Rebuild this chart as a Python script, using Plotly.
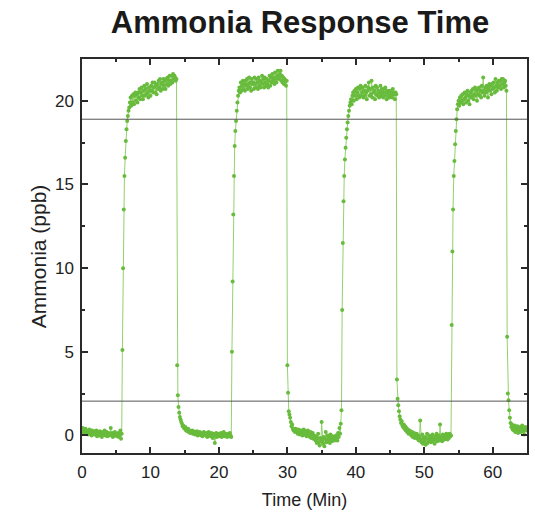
import plotly.graph_objects as go

title_text = "Ammonia Response Time"
x_title = "Time (Min)"
y_title = "Ammonia (ppb)"
threshold_levels = [2.05, 18.9]

time_min = [
0.0,0.1,0.2,0.3,0.4,0.5,0.6,0.7,0.8,0.9,
1.0,1.1,1.2,1.3,1.4,1.5,1.6,1.7,1.8,1.9,
2.0,2.1,2.2,2.3,2.4,2.5,2.6,2.7,2.8,2.9,
3.0,3.1,3.2,3.3,3.4,3.5,3.6,3.7,3.8,3.9,
4.0,4.1,4.2,4.3,4.4,4.5,4.6,4.7,4.8,4.9,
5.0,5.1,5.2,5.3,5.4,5.5,5.6,5.7,5.8,5.9,
6.0,6.1,6.2,6.3,6.4,6.5,6.6,6.7,6.8,6.9,
7.0,7.1,7.2,7.3,7.4,7.5,7.6,7.7,7.8,7.9,
8.0,8.1,8.2,8.3,8.4,8.5,8.6,8.7,8.8,8.9,
9.0,9.1,9.2,9.3,9.4,9.5,9.6,9.7,9.8,9.9,
10.0,10.1,10.2,10.3,10.4,10.5,10.6,10.7,10.8,10.9,
11.0,11.1,11.2,11.3,11.4,11.5,11.6,11.7,11.8,11.9,
12.0,12.1,12.2,12.3,12.4,12.5,12.6,12.7,12.8,12.9,
13.0,13.1,13.2,13.3,13.4,13.5,13.6,13.7,13.8,13.9,
14.0,14.1,14.2,14.3,14.4,14.5,14.6,14.7,14.8,14.9,
15.0,15.1,15.2,15.3,15.4,15.5,15.6,15.7,15.8,15.9,
16.0,16.1,16.2,16.3,16.4,16.5,16.6,16.7,16.8,16.9,
17.0,17.1,17.2,17.3,17.4,17.5,17.6,17.7,17.8,17.9,
18.0,18.1,18.2,18.3,18.4,18.5,18.6,18.7,18.8,18.9,
19.0,19.1,19.2,19.3,19.4,19.5,19.6,19.7,19.8,19.9,
20.0,20.1,20.2,20.3,20.4,20.5,20.6,20.7,20.8,20.9,
21.0,21.1,21.2,21.3,21.4,21.5,21.6,21.7,21.8,21.9,
22.0,22.1,22.2,22.3,22.4,22.5,22.6,22.7,22.8,22.9,
23.0,23.1,23.2,23.3,23.4,23.5,23.6,23.7,23.8,23.9,
24.0,24.1,24.2,24.3,24.4,24.5,24.6,24.7,24.8,24.9,
25.0,25.1,25.2,25.3,25.4,25.5,25.6,25.7,25.8,25.9,
26.0,26.1,26.2,26.3,26.4,26.5,26.6,26.7,26.8,26.9,
27.0,27.1,27.2,27.3,27.4,27.5,27.6,27.7,27.8,27.9,
28.0,28.1,28.2,28.3,28.4,28.5,28.6,28.7,28.8,28.9,
29.0,29.1,29.2,29.3,29.4,29.5,29.6,29.7,29.8,29.9,
30.0,30.1,30.2,30.3,30.4,30.5,30.6,30.7,30.8,30.9,
31.0,31.1,31.2,31.3,31.4,31.5,31.6,31.7,31.8,31.9,
32.0,32.1,32.2,32.3,32.4,32.5,32.6,32.7,32.8,32.9,
33.0,33.1,33.2,33.3,33.4,33.5,33.6,33.7,33.8,33.9,
34.0,34.1,34.2,34.3,34.4,34.5,34.6,34.7,34.8,34.9,
35.0,35.1,35.2,35.3,35.4,35.5,35.6,35.7,35.8,35.9,
36.0,36.1,36.2,36.3,36.4,36.5,36.6,36.7,36.8,36.9,
37.0,37.1,37.2,37.3,37.4,37.5,37.6,37.7,37.8,37.9,
38.0,38.1,38.2,38.3,38.4,38.5,38.6,38.7,38.8,38.9,
39.0,39.1,39.2,39.3,39.4,39.5,39.6,39.7,39.8,39.9,
40.0,40.1,40.2,40.3,40.4,40.5,40.6,40.7,40.8,40.9,
41.0,41.1,41.2,41.3,41.4,41.5,41.6,41.7,41.8,41.9,
42.0,42.1,42.2,42.3,42.4,42.5,42.6,42.7,42.8,42.9,
43.0,43.1,43.2,43.3,43.4,43.5,43.6,43.7,43.8,43.9,
44.0,44.1,44.2,44.3,44.4,44.5,44.6,44.7,44.8,44.9,
45.0,45.1,45.2,45.3,45.4,45.5,45.6,45.7,45.8,45.9,
46.0,46.1,46.2,46.3,46.4,46.5,46.6,46.7,46.8,46.9,
47.0,47.1,47.2,47.3,47.4,47.5,47.6,47.7,47.8,47.9,
48.0,48.1,48.2,48.3,48.4,48.5,48.6,48.7,48.8,48.9,
49.0,49.1,49.2,49.3,49.4,49.5,49.6,49.7,49.8,49.9,
50.0,50.1,50.2,50.3,50.4,50.5,50.6,50.7,50.8,50.9,
51.0,51.1,51.2,51.3,51.4,51.5,51.6,51.7,51.8,51.9,
52.0,52.1,52.2,52.3,52.4,52.5,52.6,52.7,52.8,52.9,
53.0,53.1,53.2,53.3,53.4,53.5,53.6,53.7,53.8,53.9,
54.0,54.1,54.2,54.3,54.4,54.5,54.6,54.7,54.8,54.9,
55.0,55.1,55.2,55.3,55.4,55.5,55.6,55.7,55.8,55.9,
56.0,56.1,56.2,56.3,56.4,56.5,56.6,56.7,56.8,56.9,
57.0,57.1,57.2,57.3,57.4,57.5,57.6,57.7,57.8,57.9,
58.0,58.1,58.2,58.3,58.4,58.5,58.6,58.7,58.8,58.9,
59.0,59.1,59.2,59.3,59.4,59.5,59.6,59.7,59.8,59.9,
60.0,60.1,60.2,60.3,60.4,60.5,60.6,60.7,60.8,60.9,
61.0,61.1,61.2,61.3,61.4,61.5,61.6,61.7,61.8,61.9,
62.0,62.1,62.2,62.3,62.4,62.5,62.6,62.7,62.8,62.9,
63.0,63.1,63.2,63.3,63.4,63.5,63.6,63.7,63.8,63.9,
64.0,64.1,64.2,64.3,64.4,64.5,64.6,64.7,64.8,64.9,
65.0,
]

ammonia_ppb = [
0.35,0.45,0.2,0.3,0.1,0.4,0.25,0.15,0.3,0.05,
0.2,0.35,0.1,0.25,0.0,0.3,0.15,0.2,0.05,0.25,
0.1,0.3,-0.05,0.15,0.2,0.0,0.25,0.1,0.15,-0.1,
0.2,0.05,0.15,0.3,0.0,0.1,0.2,-0.05,0.1,0.15,
0.0,0.1,0.45,0.05,0.15,-0.1,0.1,0.0,0.2,0.05,
0.1,-0.05,0.0,0.15,-0.1,0.05,0.3,-0.2,0.1,5.1,
10.0,13.5,15.5,16.6,17.6,18.3,18.8,19.1,19.4,19.6,
19.9,20.2,19.7,20.3,19.9,20.4,19.8,20.3,20.5,20.0,
20.4,19.9,20.5,20.2,20.7,20.1,20.5,20.8,20.3,20.1,
20.6,20.9,20.3,20.7,20.4,21.0,20.5,20.2,20.8,20.6,
20.3,20.9,20.6,21.1,20.5,20.8,21.1,20.5,20.9,20.4,
21.0,20.7,21.2,20.8,21.3,20.6,21.0,21.1,20.7,21.3,
20.9,21.2,20.7,21.3,21.0,21.4,20.9,21.2,21.5,21.0,
21.2,21.5,21.1,21.6,21.3,21.5,21.4,21.2,21.3,4.2,
2.4,1.7,1.35,1.1,0.95,0.8,0.7,0.55,0.6,0.45,
0.4,0.5,0.3,0.35,0.25,0.4,0.2,0.3,0.15,0.25,
0.2,0.3,0.1,0.25,0.15,0.05,0.2,0.1,0.25,0.0,
0.15,0.05,0.2,0.1,0.0,0.15,-0.05,0.1,0.2,0.05,
0.1,0.0,0.15,-0.1,0.05,0.2,0.0,0.1,-0.05,0.15,
0.05,-0.15,0.1,0.0,-0.45,0.05,0.15,-0.1,0.0,0.1,
-0.05,0.1,0.0,0.15,-0.1,0.05,0.0,0.2,-0.05,0.1,
0.0,0.05,-0.1,0.1,0.0,-0.05,0.15,0.0,-0.1,5.0,
9.2,13.2,15.5,17.3,18.2,18.8,19.4,19.9,20.3,20.6,
20.8,20.5,21.1,20.6,20.9,21.2,20.7,21.0,20.6,21.2,
20.9,21.3,20.7,21.0,21.4,20.8,21.1,20.6,21.3,21.0,
21.1,20.7,21.4,21.0,20.8,21.3,21.1,20.7,21.4,20.9,
21.2,20.8,21.1,21.5,21.0,21.3,20.8,21.4,21.1,20.9,
21.3,21.0,20.8,21.2,21.5,20.9,21.4,21.1,21.6,21.2,
21.4,21.0,21.7,21.3,21.1,21.5,21.8,21.3,21.4,21.6,
21.8,21.2,21.5,21.1,21.4,21.0,21.3,21.2,20.9,21.2,
4.2,2.55,1.45,1.25,1.05,0.8,0.55,0.65,0.4,0.3,
0.35,0.2,0.4,0.25,0.3,0.1,0.35,0.2,0.05,0.3,
0.15,0.3,0.0,0.2,0.35,0.05,0.1,0.25,-0.05,0.15,
0.3,0.0,0.1,-0.1,0.2,-0.15,0.05,0.15,-0.2,0.0,
-0.1,-0.3,-0.05,-0.45,-0.2,0.1,-0.4,-0.6,-0.15,-0.35,
0.8,-0.3,-0.5,-0.1,-0.65,-0.2,0.2,-0.4,-0.25,0.0,
-0.3,-0.1,-0.45,0.05,-0.2,-0.35,-0.05,-0.25,-0.1,-0.3,
-0.2,0.0,-0.15,-0.3,0.15,-0.1,0.45,0.1,0.7,1.5,
7.5,11.5,14.0,15.5,16.5,17.2,17.8,18.3,18.7,19.1,
19.4,19.7,19.9,20.1,19.8,20.3,20.5,20.0,20.6,20.3,
20.7,20.1,20.5,20.8,20.3,20.2,20.7,20.9,20.3,20.5,
20.8,20.2,20.6,20.3,20.9,20.5,20.1,20.6,20.8,21.1,
20.3,20.7,20.4,21.2,20.2,20.8,20.5,20.6,20.1,20.9,
20.4,20.8,20.3,20.6,20.2,20.5,20.9,20.3,20.7,20.5,
20.2,20.7,20.3,20.8,20.5,20.1,20.6,20.3,20.5,20.2,
20.6,20.3,20.5,20.2,20.7,20.4,20.5,20.1,20.5,20.4,
3.35,2.2,1.8,1.45,1.15,0.95,0.75,0.85,0.6,0.5,
0.65,0.4,0.55,0.3,0.45,0.2,0.35,0.1,0.3,0.15,
0.25,0.0,0.2,-0.1,0.1,0.15,-0.15,0.05,-0.05,0.1,
-0.2,0.0,-0.3,-0.1,0.9,-0.25,-0.4,0.05,-0.5,-0.15,
-0.35,-0.1,-0.55,-0.2,0.1,-0.45,-0.25,0.0,-0.3,-0.1,
-0.4,-0.15,0.05,-0.3,-0.2,-0.5,-0.05,-0.25,0.1,-0.35,
-0.15,0.0,-0.3,0.65,-0.2,-0.1,-0.35,0.05,-0.15,-0.25,
0.0,-0.2,0.1,-0.1,-0.25,0.05,-0.15,0.1,-0.05,0.0,
6.6,11.0,13.5,15.5,16.4,17.4,18.2,18.9,19.5,19.8,
20.0,19.7,20.2,19.9,20.3,20.0,20.4,19.8,20.1,20.5,
20.2,19.9,20.4,20.6,20.0,20.3,19.8,20.5,20.2,20.6,
20.3,20.7,20.1,20.4,20.8,20.3,20.6,20.0,20.7,20.4,
20.8,20.3,20.6,20.2,20.9,20.5,21.4,20.6,20.3,20.8,
20.5,20.9,20.6,20.2,20.8,21.0,20.6,20.9,20.4,21.0,
20.7,21.1,20.8,20.5,21.3,20.9,20.6,21.1,20.8,21.2,
20.9,21.2,20.7,21.3,21.0,21.3,20.8,21.1,21.2,20.9,
20.6,5.9,2.5,2.1,1.5,1.05,0.75,0.5,0.65,0.35,
0.5,0.3,0.6,0.2,0.45,0.35,0.55,0.15,0.4,0.3,
0.5,0.2,0.45,0.6,0.25,0.4,0.05,0.35,0.5,0.3,
0.4,
]

x_ticks = [0, 10, 20, 30, 40, 50, 60]
y_ticks = [0, 5, 10, 15, 20]

axis_color = "#2a2a2a"
font_family = "Liberation Sans, Arial, sans-serif"

fig = go.Figure()
fig.add_trace(go.Scatter(
    x=time_min, y=ammonia_ppb, mode="lines+markers",
    line=dict(color="#93d16e", width=1),
    marker=dict(color="#68bb3c", size=4),
    showlegend=False,
))

for lvl in threshold_levels:
    fig.add_shape(type="line", xref="paper", x0=0, x1=1, yref="y", y0=lvl, y1=lvl,
                  line=dict(color="#555555", width=1))

axis_common = dict(
    showline=True, linecolor=axis_color, linewidth=1.5, mirror="ticks",
    ticks="inside", ticklen=6, tickwidth=1.5, tickcolor=axis_color,
    showgrid=False, zeroline=False,
    tickfont=dict(family=font_family, size=17, color="#222222"),
)

fig.update_xaxes(
    range=[0, 65], tickvals=x_ticks, ticktext=[str(v) for v in x_ticks],
    minor=dict(dtick=5, tick0=0, ticks="inside", ticklen=3.5, tickwidth=1.5, tickcolor=axis_color),
    title=dict(text=x_title, font=dict(family=font_family, size=18, color="#222222"), standoff=12),
    ticklabelstandoff=3,
    **axis_common,
)
fig.update_yaxes(
    range=[-1.05, 22.5], tickvals=y_ticks, ticktext=[str(v) for v in y_ticks],
    minor=dict(dtick=2.5, tick0=0, ticks="inside", ticklen=3.5, tickwidth=1.5, tickcolor=axis_color),
    ticklabelstandoff=3,
    **axis_common,
)

fig.add_annotation(
    text=y_title, textangle=-90, showarrow=False,
    xref="paper", x=(38 - 82) / 447, xanchor="center",
    yref="paper", y=0.5, yanchor="middle",
    font=dict(family=font_family, size=21, color="#222222"),
)

fig.update_layout(
    width=535, height=513,
    margin=dict(l=82, r=6, t=59, b=58),
    paper_bgcolor="white", plot_bgcolor="white",
    title=dict(text="<b>" + title_text + "</b>", x=300 / 535, xref="container", xanchor="center",
               y=0.957, yref="container", yanchor="middle",
               font=dict(family=font_family, size=31, color="#1a1a1a")),
)

fig.write_html("out.html")
